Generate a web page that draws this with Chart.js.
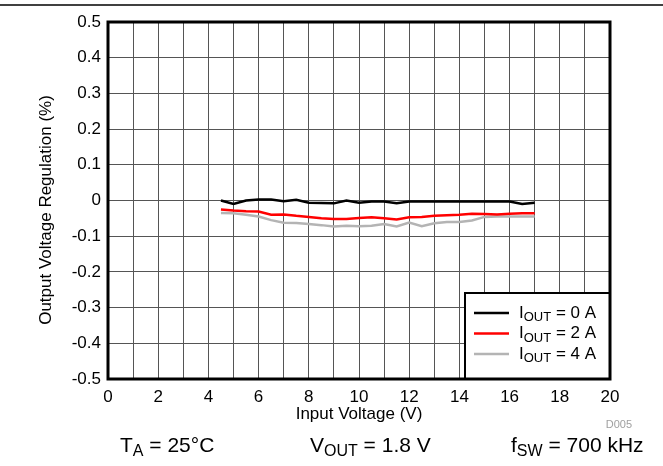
<!DOCTYPE html>
<html>
<head>
<meta charset="utf-8">
<script src="https://cdn.jsdelivr.net/npm/chart.js@4.4.0/dist/chart.umd.min.js"></script>
<style>
  html, body { margin: 0; padding: 0; background: #fff; }
  #wrap { width: 663px; height: 466px; }
</style>
</head>
<body>
<div id="wrap"><canvas id="chart" width="663" height="466"></canvas></div>
<script>
// input voltage (V)
const vin = [4.5, 5, 5.5, 6, 6.5, 7, 7.5, 8, 8.5, 9, 9.5, 10, 10.5, 11, 11.5, 12, 12.5, 13, 13.5, 14, 14.5, 15, 15.5, 16, 16.5, 17];

// output voltage regulation (%)
const iout0 = [0, -0.01, 0, 0.003, 0.003, -0.002, 0.002, -0.006, -0.007, -0.008, 0, -0.006, -0.003, -0.003, -0.008, -0.003, -0.003, -0.003, -0.003, -0.003, -0.003, -0.003, -0.003, -0.003, -0.01, -0.006];
const iout2 = [-0.025, -0.028, -0.03, -0.031, -0.04, -0.039, -0.043, -0.046, -0.05, -0.052, -0.052, -0.049, -0.047, -0.05, -0.053, -0.047, -0.046, -0.043, -0.041, -0.04, -0.037, -0.038, -0.039, -0.037, -0.036, -0.036];
const iout4 = [-0.035, -0.036, -0.04, -0.045, -0.055, -0.062, -0.063, -0.066, -0.069, -0.073, -0.071, -0.072, -0.071, -0.066, -0.073, -0.062, -0.072, -0.064, -0.06, -0.06, -0.056, -0.046, -0.045, -0.045, -0.045, -0.045];

const seriesNames = ['0 A', '2 A', '4 A'];
const seriesColors = ['#000000', '#ff0000', '#b4b4b4'];

const FONT = '"Liberation Sans", Arial, sans-serif';

function pts(ys) {
    return vin.map((v, i) => ({ x: v, y: ys[i] }));
}

// text with subscript pieces: parts = [[text, isSub], ...]
function drawParts(ctx, x, y, parts, size) {
    let cx = x;
    parts.forEach(p => {
        const sub = p[1];
        ctx.font = (sub ? Math.round(size * 0.75) : size) + 'px ' + FONT;
        ctx.fillText(p[0], cx, sub ? y + size * 0.28 : y);
        cx += ctx.measureText(p[0]).width;
    });
    return cx;
}

const extras = {
    id: 'extras',
    afterDraw(chart) {
        const ctx = chart.ctx;
        const a = chart.chartArea;
        ctx.save();

        // top rule across the page
        ctx.strokeStyle = '#000';
        ctx.lineWidth = 1.5;
        ctx.beginPath();
        ctx.moveTo(0, 5);
        ctx.lineTo(663, 5);
        ctx.stroke();

        // y axis title (sits a bit below the plot centre in the original)
        ctx.save();
        ctx.translate(46, 210);
        ctx.rotate(-Math.PI / 2);
        ctx.textAlign = 'center';
        ctx.textBaseline = 'middle';
        ctx.fillStyle = '#000';
        ctx.font = '17px ' + FONT;
        ctx.fillText('Output Voltage Regulation (%)', 0, 0);
        ctx.restore();

        // legend box
        const lx = 465, ly = 293;
        ctx.fillStyle = '#fff';
        ctx.fillRect(lx, ly, a.right - lx, a.bottom - ly);
        ctx.lineWidth = 2;
        ctx.strokeStyle = '#000';
        ctx.strokeRect(lx, ly, a.right - lx, a.bottom - ly);
        ctx.textBaseline = 'middle';
        ctx.textAlign = 'left';
        seriesNames.forEach((n, i) => {
            const yy = 313 + i * 20.5;
            ctx.strokeStyle = seriesColors[i];
            ctx.lineWidth = 2.5;
            ctx.beginPath();
            ctx.moveTo(474, yy);
            ctx.lineTo(509, yy);
            ctx.stroke();
            ctx.fillStyle = '#000';
            drawParts(ctx, 519, yy, [['I', false], ['OUT', true], [' = ' + n, false]], 17);
        });

        // plot frame
        ctx.strokeStyle = '#000';
        ctx.lineWidth = 3;
        ctx.strokeRect(a.left, a.top, a.right - a.left, a.bottom - a.top);

        // footnote and conditions
        ctx.textBaseline = 'middle';
        ctx.fillStyle = '#a0a0a0';
        ctx.font = '11px ' + FONT;
        ctx.textAlign = 'right';
        ctx.fillText('D005', 632, 425);
        ctx.textAlign = 'left';
        ctx.fillStyle = '#000';
        drawParts(ctx, 120, 446, [['T', false], ['A', true], [' = 25°C', false]], 21);
        drawParts(ctx, 310, 446, [['V', false], ['OUT', true], [' = 1.8 V', false]], 21);
        drawParts(ctx, 511, 446, [['f', false], ['SW', true], [' = 700 kHz', false]], 21);
        ctx.restore();
    }
};

new Chart(document.getElementById('chart'), {
    type: 'line',
    data: {
        datasets: [
            { label: seriesNames[0], data: pts(iout0), borderColor: seriesColors[0] },
            { label: seriesNames[1], data: pts(iout2), borderColor: seriesColors[1] },
            { label: seriesNames[2], data: pts(iout4), borderColor: seriesColors[2] }
        ]
    },
    options: {
        responsive: false,
        animation: false,
        layout: { padding: { top: 22, right: 53, left: 0, bottom: 41 } },
        elements: {
            point: { radius: 0 },
            line: { borderWidth: 2.5, tension: 0 }
        },
        plugins: {
            legend: { display: false },
            tooltip: { enabled: false }
        },
        scales: {
            x: {
                type: 'linear',
                min: 0,
                max: 20,
                afterFit: s => { s.height = 46; },
                ticks: {
                    stepSize: 1,
                    autoSkip: false,
                    maxRotation: 0,
                    padding: 8,
                    color: '#000',
                    font: { family: FONT, size: 17 },
                    callback: v => (v % 2 === 0 ? String(v) : '')
                },
                grid: { color: '#555', lineWidth: 1, drawTicks: false },
                border: { display: false },
                title: {
                    display: true,
                    text: 'Input Voltage (V)',
                    color: '#000',
                    font: { family: FONT, size: 17 },
                    padding: { top: 0, bottom: 0 }
                }
            },
            y: {
                min: -0.5,
                max: 0.5,
                afterFit: s => { s.width = 108; },
                ticks: {
                    stepSize: 0.1,
                    padding: 7,
                    color: '#000',
                    font: { family: FONT, size: 17 },
                    callback: v => String(Math.round(v * 10) / 10)
                },
                grid: { color: '#555', lineWidth: 1, drawTicks: false },
                border: { display: false }
            }
        }
    },
    plugins: [extras]
});
</script>
</body>
</html>
